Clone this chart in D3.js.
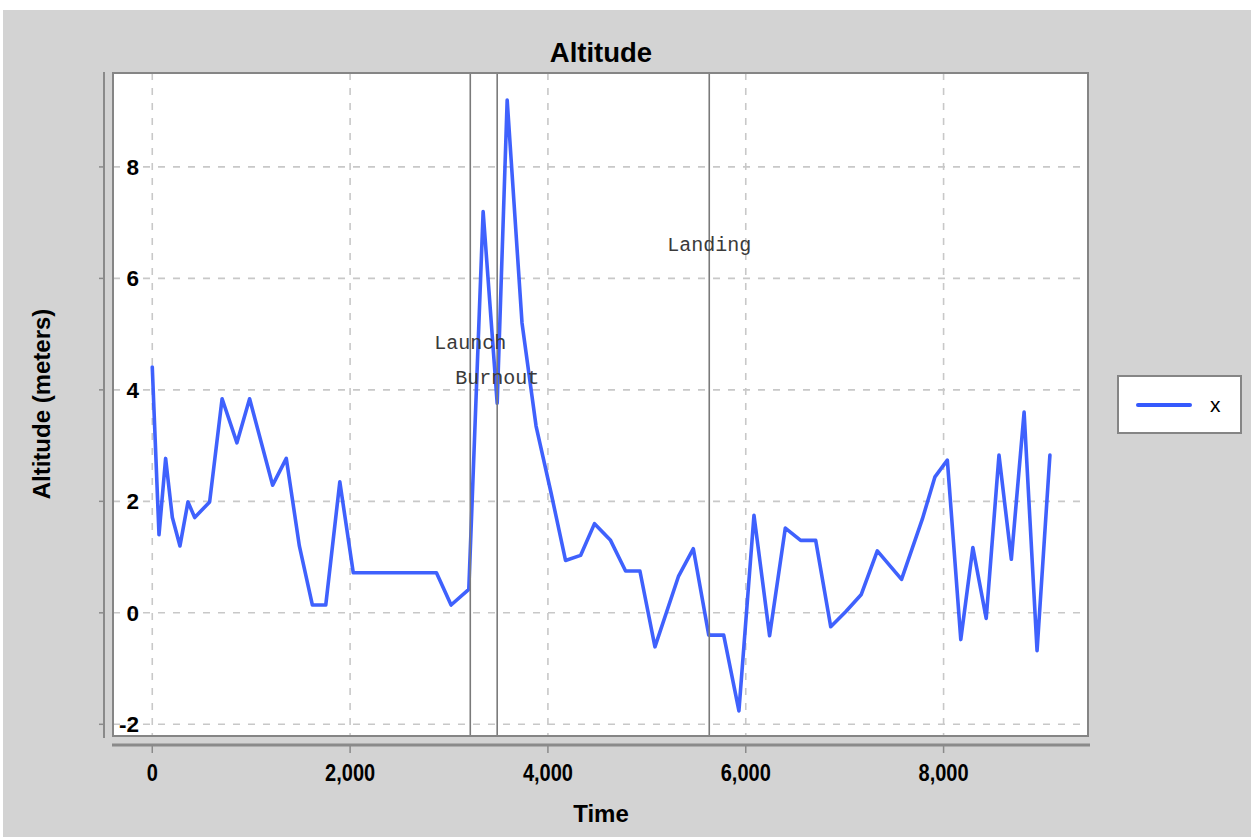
<!DOCTYPE html>
<html>
<head>
<meta charset="utf-8">
<script src="https://cdn.jsdelivr.net/npm/d3@7"></script>
<style>
  html, body { margin: 0; padding: 0; background: #ffffff; }
  svg { display: block; }
</style>
</head>
<body>
<svg id="chart" width="1251" height="837"></svg>
<script>
// ---- data ----
const times = [0, 68, 135, 203, 280, 361, 429, 580, 706, 856, 984, 1217, 1355, 1487, 1619, 1754, 1896,
  2032, 2172, 2306, 2448, 2583, 2724, 2873, 3021, 3200, 3345, 3487, 3588, 3738, 3880, 4032,
  4178, 4330, 4471, 4633, 4785, 4930, 5082, 5321, 5470, 5626, 5777, 5931, 6083, 6241, 6400,
  6555, 6707, 6859, 7010, 7168, 7330, 7575, 7785, 7913, 8038, 8174, 8296, 8431, 8560, 8685,
  8814, 8945, 9075];
const altitude = [4.41, 1.40, 2.77, 1.71, 1.20, 1.99, 1.71, 1.99, 3.84, 3.05, 3.84, 2.29, 2.77, 1.20, 0.14, 0.14, 2.35,
  0.72, 0.72, 0.72, 0.72, 0.72, 0.72, 0.72, 0.14, 0.42, 7.20, 3.76, 9.20, 5.20, 3.35, 2.15,
  0.94, 1.03, 1.60, 1.30, 0.75, 0.75, -0.61, 0.66, 1.15, -0.40, -0.40, -1.76, 1.75, -0.41, 1.52,
  1.30, 1.30, -0.25, 0.02, 0.33, 1.11, 0.60, 1.68, 2.44, 2.74, -0.48, 1.17, -0.10, 2.83, 0.96,
  3.60, -0.68, 2.83];
const seriesName = "x";
const eventNames = ["Launch", "Burnout", "Landing"];
const eventTimes = [3215, 3487, 5631];
const eventLabelValues = [4.74, 4.11, 6.49];
const xTicks = [0, 2000, 4000, 6000, 8000];
const yTicks = [-2, 0, 2, 4, 6, 8];

// ---- layout ----
const svg = d3.select("#chart");
const W = 1251, H = 837;
const plot = { left: 113, right: 1088, top: 73, bottom: 736 };
const sans = "'Liberation Sans', Arial, Helvetica, sans-serif";

svg.append("rect").attr("x", 3).attr("y", 10).attr("width", W - 3).attr("height", H - 10).attr("fill", "#d3d3d3");

const x = d3.scaleLinear().domain([-397, 9460]).range([plot.left, plot.right]);
const y = d3.scaleLinear().domain([-2.21, 9.685]).range([plot.bottom, plot.top]);

// plot background
svg.append("rect").attr("x", plot.left).attr("y", plot.top)
  .attr("width", plot.right - plot.left).attr("height", plot.bottom - plot.top)
  .attr("fill", "#ffffff");

// grid
const grid = svg.append("g").attr("stroke", "#c8c8c8").attr("stroke-width", 1.6).attr("stroke-dasharray", "7,8");
grid.selectAll("line.v").data(xTicks).join("line").attr("class", "v")
  .attr("x1", d => x(d)).attr("x2", d => x(d)).attr("y1", plot.top).attr("y2", plot.bottom);
grid.selectAll("line.h").data(yTicks).join("line").attr("class", "h")
  .attr("x1", plot.left).attr("x2", plot.right).attr("y1", d => y(d)).attr("y2", d => y(d));

// series line
const pts = times.map((t, i) => [t, altitude[i]]);
const line = d3.line().x(d => x(d[0])).y(d => y(d[1]));
svg.append("path").datum(pts).attr("d", line)
  .attr("fill", "none").attr("stroke", "#3559fd").attr("stroke-opacity", 0.95)
  .attr("stroke-width", 3.6).attr("stroke-linejoin", "round").attr("stroke-linecap", "round");

// event markers
svg.append("g").selectAll("line").data(eventTimes).join("line")
  .attr("x1", d => x(d)).attr("x2", d => x(d)).attr("y1", plot.top).attr("y2", plot.bottom)
  .attr("stroke", "#7a7a7a").attr("stroke-width", 1.6);
svg.append("g").selectAll("text").data(eventNames).join("text")
  .attr("x", (d, i) => x(eventTimes[i])).attr("y", (d, i) => y(eventLabelValues[i]))
  .attr("text-anchor", "middle")
  .attr("font-family", "'Liberation Mono', 'Courier New', monospace")
  .attr("font-size", 20).attr("fill", "#3a3a3a")
  .text(d => d);

// plot border
svg.append("rect").attr("x", plot.left).attr("y", plot.top)
  .attr("width", plot.right - plot.left).attr("height", plot.bottom - plot.top)
  .attr("fill", "none").attr("stroke", "#858585").attr("stroke-width", 2);

// x axis
const xAxis = svg.append("g").attr("transform", `translate(0,745)`);
xAxis.append("line").attr("x1", 112).attr("x2", 1090).attr("y1", 0).attr("y2", 0)
  .attr("stroke", "#8a8a8a").attr("stroke-width", 3);
xAxis.selectAll("line.t").data(xTicks).join("line").attr("class", "t")
  .attr("x1", d => x(d)).attr("x2", d => x(d)).attr("y1", 1).attr("y2", 8)
  .attr("stroke", "#8a8a8a").attr("stroke-width", 1.5);
xAxis.selectAll("text").data(xTicks).join("text")
  .attr("transform", d => `translate(${x(d)},36) scale(0.87,1)`).attr("text-anchor", "middle")
  .attr("font-family", sans).attr("font-weight", "bold")
  .attr("font-size", 23).attr("fill", "#000")
  .text(d => d3.format(",")(d));

// y axis
const yAxis = svg.append("g");
yAxis.append("line").attr("x1", 104).attr("x2", 104).attr("y1", 72).attr("y2", 738)
  .attr("stroke", "#8a8a8a").attr("stroke-width", 2);
yAxis.selectAll("line.t").data(yTicks).join("line").attr("class", "t")
  .attr("x1", 99).attr("x2", 104).attr("y1", d => y(d)).attr("y2", d => y(d))
  .attr("stroke", "#8a8a8a").attr("stroke-width", 1.5);
yAxis.selectAll("text").data(yTicks).join("text")
  .attr("x", 139).attr("y", d => y(d) + 8).attr("text-anchor", "end")
  .attr("font-family", sans).attr("font-weight", "bold")
  .attr("font-size", 22.5).attr("fill", "#000")
  .text(d => d);

// titles
svg.append("text").attr("x", 601).attr("y", 62).attr("text-anchor", "middle")
  .attr("font-family", sans).attr("font-weight", "bold")
  .attr("font-size", 27.5).attr("fill", "#000").text("Altitude");
svg.append("text").attr("x", 601).attr("y", 822).attr("text-anchor", "middle")
  .attr("font-family", sans).attr("font-weight", "bold")
  .attr("font-size", 24).attr("fill", "#000").text("Time");
svg.append("text").attr("transform", "translate(50,404) rotate(-90)").attr("text-anchor", "middle")
  .attr("font-family", sans).attr("font-weight", "bold")
  .attr("font-size", 24).attr("fill", "#000").text("Altitude (meters)");

// legend
const lg = svg.append("g");
lg.append("rect").attr("x", 1118).attr("y", 376).attr("width", 123).attr("height", 57)
  .attr("fill", "#ffffff").attr("stroke", "#858585").attr("stroke-width", 2);
lg.append("line").attr("x1", 1138).attr("x2", 1190).attr("y1", 405).attr("y2", 405)
  .attr("stroke", "#3559fd").attr("stroke-width", 4).attr("stroke-linecap", "round");
lg.append("text").attr("x", 1210).attr("y", 412)
  .attr("font-family", sans)
  .attr("font-size", 21).attr("fill", "#000").text(seriesName);
</script>
</body>
</html>
